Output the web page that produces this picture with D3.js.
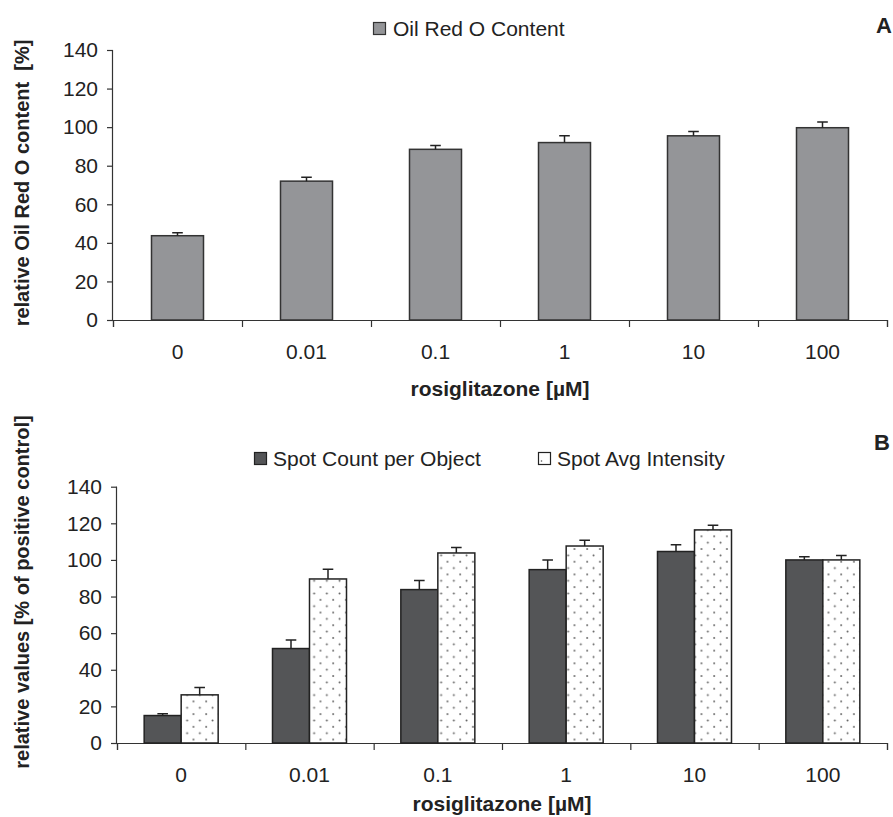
<!DOCTYPE html>
<html>
<head>
<meta charset="utf-8">
<script src="https://cdn.jsdelivr.net/npm/d3@7"></script>
<style>
  body { margin: 0; background: #fff; }
  text { font-family: "Liberation Sans", Arial, sans-serif; fill: #222; }
</style>
</head>
<body>
<svg id="chart" width="893" height="817"></svg>
<script>
const doses = ["0", "0.01", "0.1", "1", "10", "100"];
const yTicks = [0, 20, 40, 60, 80, 100, 120, 140];

// panel A
const oilRedMean = [43.7, 72, 88.5, 92, 95.5, 99.7];
const oilRedErr = [1.5, 2, 2, 3.6, 2.2, 3];

// panel B
const spotCountMean = [15, 51.6, 83.8, 94.7, 104.6, 100];
const spotCountErr = [1, 4.7, 5, 5.3, 3.7, 1.8];
const spotIntMean = [26.3, 89.6, 103.8, 107.6, 116.4, 100];
const spotIntErr = [4, 5.3, 3, 3.2, 2.6, 2.4];

const svg = d3.select("#chart");

const defs = svg.append("defs");
const pat = defs.append("pattern")
  .attr("id", "dots")
  .attr("patternUnits", "userSpaceOnUse")
  .attr("width", 12.7)
  .attr("height", 12.7);
pat.append("rect").attr("width", 12.7).attr("height", 12.7).attr("fill", "#fff");
pat.append("circle").attr("cx", 3).attr("cy", 3).attr("r", 1).attr("fill", "#666");
pat.append("circle").attr("cx", 9.35).attr("cy", 9.35).attr("r", 1).attr("fill", "#666");

function drawFrame(g, opt) {
  const x = d3.scaleBand().domain(doses).range([opt.left, opt.right]);
  const y = d3.scaleLinear().domain([0, 140]).range([opt.bottom, opt.top]);

  // y axis
  const yAxis = g.append("g")
    .attr("transform", `translate(${opt.left},0)`)
    .call(d3.axisLeft(y).tickValues(yTicks).tickSize(6).tickPadding(9));
  yAxis.select(".domain").attr("d", `M-0.5,${opt.top}V${opt.bottom}`);

  // x axis, ticks on category boundaries
  const bounds = d3.scaleLinear().domain([0, doses.length]).range([opt.left, opt.right]);
  g.append("g")
    .attr("transform", `translate(0,${opt.bottom})`)
    .call(d3.axisBottom(bounds).ticks(doses.length).tickSize(7).tickSizeOuter(7).tickFormat(""));

  g.selectAll(".domain, .tick line").attr("stroke", "#333").attr("stroke-width", 1.2);
  yAxis.selectAll("text").attr("font-size", 21).style("font-family", "Liberation Sans, Arial, sans-serif").attr("fill", "#222");

  g.append("g").selectAll("text")
    .data(doses).join("text")
    .attr("x", d => x(d) + x.bandwidth() / 2)
    .attr("y", opt.bottom + 39)
    .attr("text-anchor", "middle")
    .attr("font-size", 21)
    .text(d => d);

  g.append("text")
    .attr("x", (opt.left + opt.right) / 2)
    .attr("y", opt.bottom + opt.titleGap)
    .attr("text-anchor", "middle")
    .attr("font-size", 21)
    .attr("font-weight", "bold")
    .text("rosiglitazone [µM]");

  g.append("text")
    .attr("transform", `translate(${opt.titleX},${opt.titleY}) rotate(-90)`)
    .attr("text-anchor", "middle")
    .attr("font-size", 20)
    .attr("font-weight", "bold")
    .style("white-space", "pre")
    .text(opt.yTitle);

  return { x, y };
}

function errorBars(g, xs, tops, errs, y) {
  const cap = 5.3;
  g.selectAll(null).data(tops).join("path")
    .attr("d", (v, i) => {
      const cx = xs[i];
      const y0 = y(v), y1 = y(v + errs[i]);
      return `M${cx},${y0}V${y1}M${cx - cap},${y1}H${cx + cap}`;
    })
    .attr("stroke", "#222")
    .attr("stroke-width", 1.5)
    .attr("fill", "none");
}

// ---------- panel A ----------
const gA = svg.append("g");
const a = drawFrame(gA, {
  left: 113, right: 887, top: 50, bottom: 320, titleGap: 76,
  titleX: 29, titleY: 183, yTitle: "relative Oil Red O content  [%]"
});
const barWA = 52;
gA.append("g").selectAll("rect")
  .data(oilRedMean).join("rect")
  .attr("x", (v, i) => a.x(doses[i]) + a.x.bandwidth() / 2 - barWA / 2)
  .attr("y", v => a.y(v))
  .attr("width", barWA)
  .attr("height", v => a.y(0) - a.y(v))
  .attr("fill", "#949598")
  .attr("stroke", "#333")
  .attr("stroke-width", 1.5);
errorBars(gA, doses.map(d => a.x(d) + a.x.bandwidth() / 2), oilRedMean, oilRedErr, a.y);

// legend A
gA.append("rect").attr("x", 373.5).attr("y", 22.5).attr("width", 12).attr("height", 12)
  .attr("fill", "#949598").attr("stroke", "#333").attr("stroke-width", 1.2);
gA.append("text").attr("x", 393).attr("y", 36).attr("font-size", 21).text("Oil Red O Content");
gA.append("text").attr("x", 892).attr("y", 33).attr("text-anchor", "end")
  .attr("font-size", 22).attr("font-weight", "bold").text("A");

// ---------- panel B ----------
const gB = svg.append("g");
const b = drawFrame(gB, {
  left: 117, right: 887, top: 486.7, bottom: 743, titleGap: 68,
  titleX: 29, titleY: 592, yTitle: "relative values [% of positive control]"
});
const barWB = 37;
const centersB = doses.map(d => b.x(d) + b.x.bandwidth() / 2);
gB.append("g").selectAll("rect")
  .data(spotCountMean).join("rect")
  .attr("x", (v, i) => centersB[i] - barWB)
  .attr("y", v => b.y(v))
  .attr("width", barWB)
  .attr("height", v => b.y(0) - b.y(v))
  .attr("fill", "#545557")
  .attr("stroke", "#222")
  .attr("stroke-width", 1.5);
gB.append("g").selectAll("rect")
  .data(spotIntMean).join("rect")
  .attr("x", (v, i) => centersB[i])
  .attr("y", v => b.y(v))
  .attr("width", barWB)
  .attr("height", v => b.y(0) - b.y(v))
  .attr("fill", "url(#dots)")
  .attr("stroke", "#222")
  .attr("stroke-width", 1.5);
errorBars(gB, centersB.map(c => c - barWB / 2), spotCountMean, spotCountErr, b.y);
errorBars(gB, centersB.map(c => c + barWB / 2), spotIntMean, spotIntErr, b.y);

// legend B
gB.append("rect").attr("x", 254.5).attr("y", 452.5).attr("width", 12).attr("height", 12)
  .attr("fill", "#545557").attr("stroke", "#222").attr("stroke-width", 1.2);
gB.append("text").attr("x", 273).attr("y", 466).attr("font-size", 21).text("Spot Count per Object");
gB.append("rect").attr("x", 538.5).attr("y", 452.5).attr("width", 12).attr("height", 12)
  .attr("fill", "#fff").attr("stroke", "#222").attr("stroke-width", 1.2);
gB.append("circle").attr("cx", 541.5).attr("cy", 461).attr("r", 0.8).attr("fill", "#555");
gB.append("text").attr("x", 557).attr("y", 466).attr("font-size", 21).text("Spot Avg Intensity");
gB.append("text").attr("x", 890).attr("y", 450).attr("text-anchor", "end")
  .attr("font-size", 22).attr("font-weight", "bold").text("B");
</script>
</body>
</html>
